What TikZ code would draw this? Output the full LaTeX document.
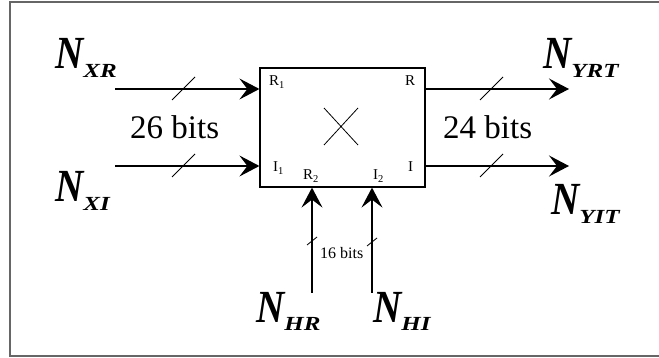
\documentclass[tikz,border=0pt]{standalone}
\usepackage{graphicx}
\usepackage{fontspec}
\setmainfont{Liberation Serif}
\usetikzlibrary{arrows.meta}
\newcommand\bigN{\scalebox{0.85}[1]{\fontsize{46}{46}\selectfont\bfseries\itshape N}}
\newcommand\subN[1]{\raisebox{-9pt}{\scalebox{1.25}[1]{\fontsize{20}{20}\selectfont\bfseries\itshape #1}}}
\tikzset{
  frame/.style={draw=black!60, line width=1.5pt},
  mulbox/.style={draw, line width=1.2pt, minimum width=165pt, minimum height=119pt, inner sep=0pt},
  sig/.style={line width=1.2pt, -{Stealth[length=20pt, width=21pt, inset=8pt]}},
  slash/.style={line width=0.8pt},
  plab/.style={inner sep=0pt, anchor=base west, font=\fontsize{15}{15}\selectfont},
  biglab/.style={inner sep=0pt, anchor=base west},
  bitslab/.style={inner sep=0pt, anchor=base west, font=\fontsize{33}{33}\selectfont},
  smallbits/.style={inner sep=0pt, anchor=base west, font=\fontsize{16}{16}\selectfont}
}
\begin{document}
\begin{tikzpicture}[x=1pt, y=-1pt]
\useasboundingbox (0,0) rectangle (659,358);
\draw[frame] (10,2) rectangle (668,356);
\node[mulbox] (mult) at (342.5,127.5) {};
% cross
\draw[line width=0.8pt] (324,108) -- (358,145) (358,108) -- (324,145);
% free ends
\coordinate (xr) at (115,89);
\coordinate (xi) at (115,166);
\coordinate (yr) at (569,89);
\coordinate (yi) at (569,166);
\coordinate (hr) at (312,293);
\coordinate (hi) at (372,293);
% connectors
\draw[sig] (xr) -- (xr -| mult.west);
\draw[sig] (xi) -- (xi -| mult.west);
\draw[sig] (mult.east |- yr) -- (yr);
\draw[sig] (mult.east |- yi) -- (yi);
\draw[sig] (hr) -- (hr |- mult.south);
\draw[sig] (hi) -- (hi |- mult.south);
% bus slashes
\draw[slash] (172,100) -- (195,77);
\draw[slash] (172,177) -- (195,154);
\draw[slash] (480,100) -- (503,77);
\draw[slash] (480,177) -- (503,154);
\draw[slash] (307,245) -- (317,237);
\draw[slash] (367,246) -- (377,238);
% port labels
\node[plab] (r1) at (269,86) {R\textsubscript{1}};
\node[plab] (i1) at (273,172) {I\textsubscript{1}};
\node[plab] (r2) at (303,180) {R\textsubscript{2}};
\node[plab] (i2) at (373,180) {I\textsubscript{2}};
\node[plab] (ro) at (405,86) {R};
\node[plab] (io) at (408,172) {I};
% bit widths
\node[bitslab] (b26) at (130,139) {26 bits};
\node[bitslab] (b24) at (443,139) {24 bits};
\node[smallbits] (b16) at (320,259) {16 bits};
% signal names
\node[biglab] (nxr) at (55,69) {\bigN\subN{XR}};
\node[biglab] (nxi) at (55,202) {\bigN\subN{XI}};
\node[biglab] (nyrt) at (543,69) {\bigN\subN{YRT}};
\node[biglab] (nyit) at (551,215) {\bigN\subN{YIT}};
\node[biglab] (nhr) at (256,322) {\bigN\subN{HR}};
\node[biglab] (nhi) at (373,322) {\bigN\subN{HI}};
\end{tikzpicture}
\end{document}
